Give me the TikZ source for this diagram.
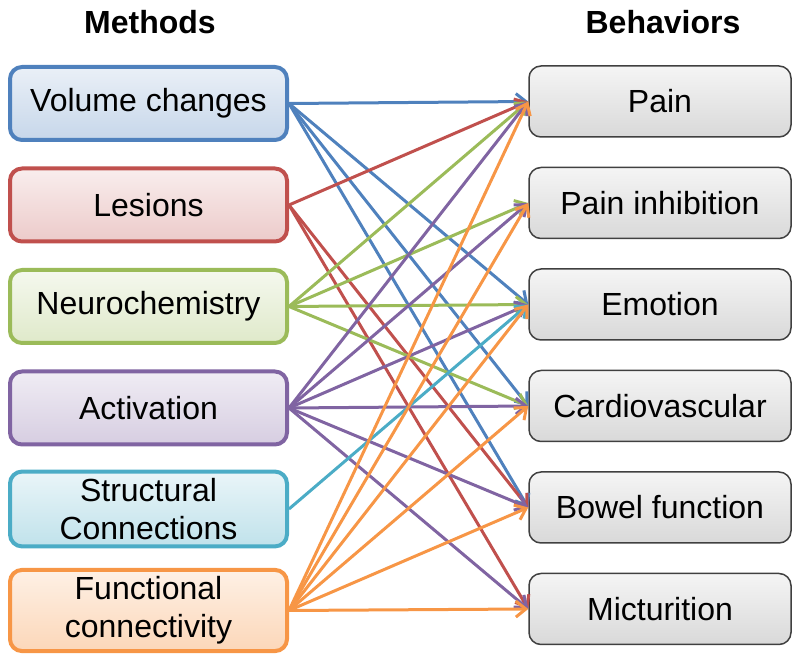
\documentclass[tikz,border=0pt]{standalone}
\usepackage{fontspec}
\setmainfont{Liberation Sans}
\usetikzlibrary{arrows.meta}

\definecolor{vblue}{HTML}{4F81BD}
\definecolor{vred}{HTML}{C0504D}
\definecolor{vgreen}{HTML}{9BBB59}
\definecolor{vpurple}{HTML}{8064A2}
\definecolor{vcyan}{HTML}{4BACC6}
\definecolor{vorange}{HTML}{F79646}

\tikzset{
  method/.style={rectangle, rounded corners=6pt, line width=2pt, minimum width=138.5pt, minimum height=36.5pt, align=center, font=\fontsize{16}{19}\selectfont},
  behav/.style={rectangle, rounded corners=6pt, draw=black!75, line width=0.75pt, top color=gray!8, bottom color=gray!30, minimum width=131pt, minimum height=35.5pt, font=\fontsize{16}{19}\selectfont},
  link/.style={line width=1.5pt, -{Straight Barb[length=5pt,width=8pt,line width=1.5pt]}}
}

\begin{document}
\begin{tikzpicture}[x=0.5pt, y=-0.5pt]
  \useasboundingbox (0,0) rectangle (800,658);

  \node[font=\fontsize{16}{19}\selectfont\bfseries] (tm) at (150,22) {Methods};
  \node[font=\fontsize{16}{19}\selectfont\bfseries] (tb) at (663,22) {Behaviors};

  \node[method, draw=vblue, top color=vblue!12, bottom color=vblue!32] (m1) at (148.5,103.5) {Volume changes};
  \node[method, draw=vred, top color=vred!10, bottom color=vred!30] (m2) at (148.5,205) {Lesions};
  \node[method, draw=vgreen, top color=vgreen!10, bottom color=vgreen!32] (m3) at (148.5,306.5) {Neurochemistry};
  \node[method, draw=vpurple, top color=vpurple!12, bottom color=vpurple!32] (m4) at (148.5,408) {Activation};
  \node[method, draw=vcyan, top color=vcyan!12, bottom color=vcyan!35] (m5) at (148.5,509) {Structural\\Connections};
  \node[method, draw=vorange, top color=vorange!14, bottom color=vorange!38] (m6) at (148.5,610.5) {Functional\\connectivity};

  \node[behav] (b1) at (660,101.5) {Pain};
  \node[behav] (b2) at (660,203) {Pain inhibition};
  \node[behav] (b3) at (660,304.5) {Emotion};
  \node[behav] (b4) at (660,406) {Cardiovascular};
  \node[behav] (b5) at (660,507.5) {Bowel function};
  \node[behav] (b6) at (660,609) {Micturition};

  % volume changes
  \draw[link, vblue] (m1.east) -- (b1.west); \draw[link, vblue] (m1.east) -- (b3.west);
  \draw[link, vblue] (m1.east) -- (b4.west); \draw[link, vblue] (m1.east) -- (b5.west);
  % lesions
  \draw[link, vred] (m2.east) -- (b1.west); \draw[link, vred] (m2.east) -- (b5.west);
  \draw[link, vred] (m2.east) -- (b6.west);
  % neurochemistry
  \draw[link, vgreen] (m3.east) -- (b1.west); \draw[link, vgreen] (m3.east) -- (b2.west);
  \draw[link, vgreen] (m3.east) -- (b3.west); \draw[link, vgreen] (m3.east) -- (b4.west);
  % activation
  \draw[link, vpurple] (m4.east) -- (b1.west); \draw[link, vpurple] (m4.east) -- (b2.west);
  \draw[link, vpurple] (m4.east) -- (b3.west); \draw[link, vpurple] (m4.east) -- (b4.west);
  \draw[link, vpurple] (m4.east) -- (b5.west); \draw[link, vpurple] (m4.east) -- (b6.west);
  % structural connections
  \draw[link, vcyan] (m5.east) -- (b3.west);
  % functional connectivity
  \draw[link, vorange] (m6.east) -- (b1.west); \draw[link, vorange] (m6.east) -- (b2.west);
  \draw[link, vorange] (m6.east) -- (b3.west); \draw[link, vorange] (m6.east) -- (b4.west);
  \draw[link, vorange] (m6.east) -- (b5.west); \draw[link, vorange] (m6.east) -- (b6.west);
\end{tikzpicture}
\end{document}
